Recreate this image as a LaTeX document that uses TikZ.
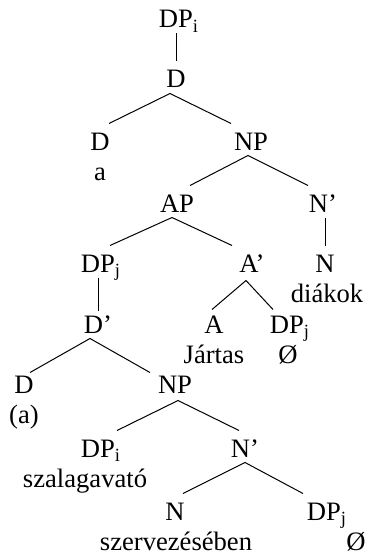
\documentclass[tikz,border=0pt]{standalone}
\usepackage{fontspec}
\setmainfont{Liberation Serif}
\begin{document}
\begin{tikzpicture}[x=0.5pt, y=-0.5pt, line width=0.5pt,
    cat/.style={anchor=base, inner xsep=0pt, inner ysep=2.5pt,
                text height=10.5pt, text depth=0pt},
    word/.style={anchor=base, inner sep=0pt}]
    \fontsize{13.3}{16}\selectfont
    \useasboundingbox (0,0) rectangle (378,556);

    % top of the tree
    \node[cat] (dpi) at (179, 28) {DP\textsubscript{i}};
    \node[cat] (dtop) at (176, 88) {D};
    \node[cat] (dleft) at (100, 150) {D};
    \node[word] (wa) at (100, 180) {a};
    \node[cat] (npa) at (251, 150) {NP};

    % adjective phrase and head noun
    \node[cat] (ap) at (177, 212) {AP};
    \node[cat] (nbara) at (323, 212) {N’};
    \node[cat] (dpja) at (101, 272) {DP\textsubscript{j}};
    \node[cat] (abar) at (252, 272) {A’};
    \node[cat] (na) at (325, 272) {N};
    \node[word] (wdiakok) at (327, 302) {diákok};
    \node[cat] (dbar) at (98, 333) {D’};
    \node[cat] (a) at (214, 333) {A};
    \node[cat] (dpjb) at (290, 333) {DP\textsubscript{j}};
    \node[word] (wjartas) at (214, 363) {Jártas};
    \node[word] (wnulla) at (288, 363) {Ø};

    % embedded DP
    \node[cat] (dlow) at (24, 393) {D};
    \node[word] (wab) at (24, 423) {(a)};
    \node[cat] (npb) at (175, 393) {NP};
    \node[cat] (dpib) at (101, 457) {DP\textsubscript{i}};
    \node[word] (wszalag) at (85, 487) {szalagavató};
    \node[cat] (nbarb) at (245, 457) {N’};
    \node[cat] (nb) at (175, 520) {N};
    \node[cat] (dpjc) at (327, 520) {DP\textsubscript{j}};
    \node[word] (wszerv) at (176, 550) {szervezésében};
    \node[word] (wnullb) at (356, 550) {Ø};

    \draw (dtop.north |- dpi.south) -- (dtop.north);
    \draw ([xshift=4.5pt]dleft.north) -- ([xshift=-3pt]dtop.south) -- ([xshift=-10pt]npa.north);
    \draw ([xshift=6.5pt]ap.north) -- ([xshift=-1.5pt]npa.south) -- ([xshift=-7.5pt]nbara.north);
    \draw (na.north |- nbara.south) -- (na.north);
    \draw ([xshift=4.5pt]dpja.north) -- ([xshift=-2.5pt]ap.south) -- ([xshift=-10pt]abar.north);
    \draw (dbar.north |- dpja.south) -- ([yshift=-2pt]dbar.north);
    \draw ([xshift=-1pt,yshift=-1.5pt]a.north) -- ([xshift=-3pt,yshift=-1.5pt]abar.south) -- ([xshift=-8.5pt,yshift=-1.5pt]dpjb.north);
    \draw ([xshift=3pt,yshift=-3pt]dlow.north) -- ([xshift=-4pt]dbar.south) -- ([xshift=-12.5pt,yshift=-3pt]npb.north);
    \draw ([xshift=8pt]dpib.north) -- ([xshift=1.5pt,yshift=-1pt]npb.south) -- ([xshift=-3pt]nbarb.north);
    \draw ([xshift=4pt]nb.north) -- (nbarb.south) -- ([xshift=-12pt]dpjc.north);
\end{tikzpicture}
\end{document}
